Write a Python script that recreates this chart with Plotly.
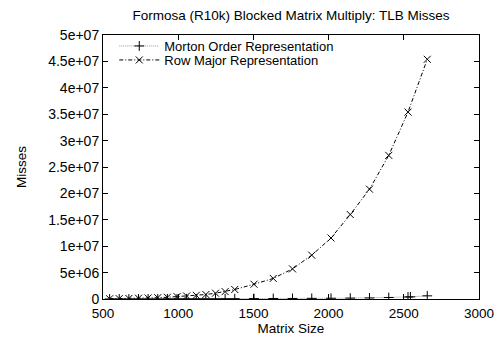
import plotly.graph_objects as go

sizes = [544, 608, 672, 736, 800, 864, 928, 992, 1056, 1120, 1184, 1248, 1312, 1376,
         1504, 1632, 1760, 1888, 2016, 2144, 2272, 2400, 2528, 2656]
row_major = [0.05e6, 0.07e6, 0.1e6, 0.15e6, 0.2e6, 0.25e6, 0.33e6, 0.45e6, 0.57e6, 0.7e6,
             0.85e6, 1.1e6, 1.4e6, 1.8e6, 2.8e6, 3.9e6, 5.7e6, 8.3e6, 11.55e6, 16.0e6,
             20.8e6, 27.2e6, 35.4e6, 45.4e6]
morton_sizes = [544, 608, 672, 736, 800, 864, 928, 992, 1056, 1120, 1184, 1248, 1312, 1376,
                1504, 1632, 1760, 1888, 2016, 2144, 2272, 2400, 2528, 2544, 2656]
morton = [0.01e6, 0.01e6, 0.01e6, 0.02e6, 0.02e6, 0.02e6, 0.03e6, 0.03e6, 0.04e6, 0.04e6,
          0.05e6, 0.05e6, 0.06e6, 0.06e6, 0.08e6, 0.09e6, 0.1e6, 0.12e6, 0.14e6, 0.17e6,
          0.2e6, 0.28e6, 0.38e6, 0.4e6, 0.6e6]
y_ticks = [0, 5e6, 1e7, 1.5e7, 2e7, 2.5e7, 3e7, 3.5e7, 4e7, 4.5e7, 5e7]
y_labels = ["0", "5e+06", "1e+07", "1.5e+07", "2e+07", "2.5e+07", "3e+07", "3.5e+07",
            "4e+07", "4.5e+07", "5e+07"]
x_ticks = [500, 1000, 1500, 2000, 2500, 3000]

FS = 13.5
fig = go.Figure()
fig.add_trace(go.Scatter(
    x=morton_sizes, y=morton, mode="lines+markers", name="Morton Order Representation",
    line=dict(color="#999999", width=1, dash="1px,1px"),
    marker=dict(symbol="cross-thin", size=7, color="black", line=dict(color="black", width=1)),
    legend="legend",
))
fig.add_trace(go.Scatter(
    x=sizes, y=row_major, mode="lines+markers", name="Row Major Representation",
    line=dict(color="black", width=1, dash="4px,2px,1px,2px"),
    marker=dict(symbol="x-thin", size=7, color="black", line=dict(color="black", width=1)),
    legend="legend2",
))

leg_common = dict(xanchor="left", yanchor="middle", bgcolor="rgba(0,0,0,0)", borderwidth=0,
                  font=dict(size=13), itemwidth=40)
fig.update_layout(
    width=497, height=341,
    margin=dict(l=103, r=18, t=35, b=42),
    paper_bgcolor="white", plot_bgcolor="white",
    font=dict(family="Liberation Sans, Arial, sans-serif", size=FS, color="black"),
    title=dict(text="Formosa (R10k) Blocked Matrix Multiply: TLB Misses",
               x=0.5855, xanchor="center", y=1 - 15 / 341, yanchor="middle",
               font=dict(size=FS)),
    legend=dict(x=0.03, y=1 - 11 / 264, **leg_common),
    legend2=dict(x=0.03, y=1 - 25 / 264, **leg_common),
    showlegend=True,
)
fig.update_xaxes(
    range=[500, 3000], tickvals=x_ticks, ticks="inside", ticklen=5, tickcolor="black",
    showline=True, linecolor="black", linewidth=1, mirror="ticks", showgrid=False,
    zeroline=False, ticklabelstandoff=2, automargin=False, tickfont=dict(size=13.5),
    title=dict(text="Matrix Size", standoff=0, font=dict(size=FS)),
)
fig.update_yaxes(
    range=[0, 5e7], tickvals=y_ticks, ticktext=y_labels, ticks="inside", ticklen=5,
    tickcolor="black", showline=True, linecolor="black", linewidth=1, mirror="ticks",
    showgrid=False, zeroline=False, automargin=False, tickfont=dict(size=14),
    title=dict(text="Misses", standoff=18, font=dict(size=FS)),
)

fig.write_html("out.html")
